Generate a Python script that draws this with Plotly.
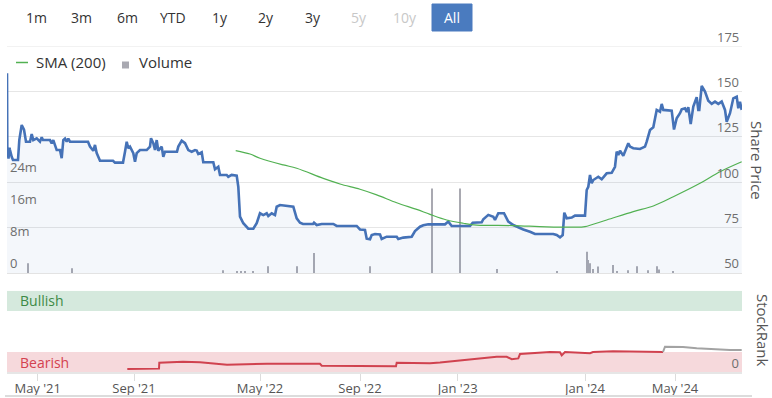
import plotly.graph_objects as go

# ---------------- data (x = ordinal session position) ----------------
PRICE_X = [0, 0.3, 1.5, 2.5, 3, 4.7, 6, 11, 12.3, 14.7, 17, 19, 23, 24.7, 26.3, 29.7, 33, 34.7, 36, 43,
           44.7, 46.3, 49.7, 53, 54.7, 56.3, 58, 59.7, 61.3, 63, 81, 83, 86.3, 88, 89.7, 93, 106, 108, 116,
           118, 119.7, 121.3, 123, 126.3, 128, 129.7, 133, 139.7, 143, 144, 146.3, 148, 149.7, 151.3, 154.7,
           156.3, 158, 170, 171.3, 174.7, 178, 181.3, 184.7, 188, 189.7, 191.3, 194.7, 196.3, 206.3, 208,
           211.3, 213, 219.7, 221.3, 224.7, 229.7, 231.3, 233, 236.3, 241.3, 246.3, 249.7, 253, 256.3, 259.7,
           261.3, 264.7, 268, 269.7, 273, 283, 286.3, 289.7, 293, 296, 306, 307, 309.7, 314.7, 326.3, 329.7,
           349.7, 353, 358, 359.7, 363, 364.7, 368, 373, 374.7, 379.7, 389.7, 391.3, 396.3, 404.7, 408, 413,
           416.3, 421.3, 438, 441.3, 444.7, 463, 465.7, 474.7, 476.3, 481.3, 486.3, 488, 491.3, 497, 501.3,
           506.3, 509.7, 516.3, 523, 528, 546.3, 549.7, 553, 555.7, 557.3, 559.7, 564.7, 568, 578, 579.7,
           581.3, 583, 584.7, 586.3, 591.3, 594.7, 599.7, 604.7, 608, 609.7, 611.3, 613, 616.3, 618, 621.3,
           623, 626.3, 633, 638, 639.7, 643, 646.3, 649.7, 653, 654.7, 656.3, 661.3, 664.7, 667, 669.7, 673,
           674.7, 678, 679.7, 681.3, 683.7, 686.3, 689.7, 691.3, 692.3, 694.7, 698, 701.3, 704.7, 708, 711.3,
           714.7, 718, 719.7, 723, 726.3, 729.7, 731.3, 733, 734.7]
PRICE = [160, 119.6, 113, 119, 117.7, 114, 112.2, 112.2, 123.2, 131.5, 129, 122.3, 122.3, 126.5, 123.2,
         124.2, 122.3, 124.8, 123.2, 123.2, 121.4, 123.2, 117.7, 117.7, 113.2, 123.2, 124, 122.3, 124, 122.3,
         122.3, 119.6, 117.3, 120.5, 116, 111.8, 111.8, 110.8, 110.8, 116.8, 122.3, 118.7, 119.6, 116, 111.3,
         116, 117.7, 117.7, 119.6, 124.2, 121.5, 117.7, 123.2, 117.3, 119.6, 114, 116.8, 116.8, 119.6, 122.9,
         121.5, 117.7, 116.8, 117.7, 117.4, 115.5, 116.5, 111, 111, 107.1, 108.5, 104, 104, 103, 104, 103.6,
         97.5, 81, 77.4, 74.4, 74.4, 77.4, 82.9, 81.9, 82.9, 81.4, 82.9, 81.9, 86.5, 87.4, 86.9, 86.5, 80.1,
         77.7, 77, 77, 77.7, 76.4, 77, 77, 75.9, 75.9, 74, 73.7, 68.9, 68.6, 70.9, 71.5, 71.2, 68.7, 70, 70,
         68.7, 69.5, 70, 73.1, 75.5, 76.3, 76.8, 76.8, 78.3, 75.9, 75.9, 77.7, 77.9, 79.6, 82, 81, 79.2, 82.9,
         82.9, 78.3, 76.4, 75.5, 74, 72.7, 71.5, 71.5, 70.9, 69.6, 70.9, 83.2, 80.1, 80.5, 81.6, 81.6, 95.7,
         97.5, 104, 99.4, 101.2, 103, 101.6, 104.9, 105.2, 108.5, 116.8, 115, 117.4, 114.6, 116.8, 121.4,
         119.6, 118.7, 118.3, 119.6, 122.3, 128.7, 130.2, 139.8, 138.8, 143.1, 139.8, 139.8, 139.4, 129,
         135.2, 138, 140.1, 140.7, 138.7, 141.3, 132, 141.6, 146.8, 139.8, 139.8, 153, 149.9, 144.9, 143.1,
         144.4, 143.1, 144.4, 139.8, 133.3, 138, 146.2, 147.1, 140.7, 144.3, 139.8]

SMA_X = [228.7, 243, 253, 276.3, 289.7, 316.3, 333, 353, 369.7, 389.7, 409.7, 423, 439.7, 456.3, 469.7,
         506.3, 539.7, 573, 578, 599.7, 626.3, 646.3, 666.3, 693, 713, 734.7]
SMA = [117.4, 115.5, 113.2, 109.5, 107.7, 102.1, 99, 96.1, 93, 88.7, 85, 82.3, 79.2, 77.4, 76.4,
       76.1, 75.4, 75.3, 75.5, 79.2, 83.8, 86.9, 92, 99.4, 105.8, 111.3]

VOL_X = [21.3, 64.7, 216.3, 229.7, 233.7, 238, 245.7, 260.7, 289.7, 307, 363, 424.7, 453, 490.3, 550.3,
         579.7, 581.3, 583, 586.3, 591.3, 606.3, 609.7, 621.3, 629.7, 641.3, 649.7, 652.3, 666.3]
VOLUME = [2.4e6, 1.2e6, 0.7e6, 0.4e6, 0.4e6, 0.3e6, 0.4e6, 1.7e6, 1.7e6, 5.0e6, 1.7e6, 21.0e6, 21.0e6,
          1.0e6, 0.4e6, 5.3e6, 3.2e6, 2.4e6, 1.0e6, 1.6e6, 2.0e6, 0.5e6, 0.7e6, 1.7e6, 0.7e6, 1.7e6,
          0.9e6, 0.4e6]

RANK_X = [120.3, 152, 152.3, 176, 193, 220, 260, 313, 314.7, 353, 379.7, 389, 389.7, 423, 433, 453,
          489.7, 499.7, 504.7, 511.3, 513, 543, 553, 554.7, 558, 583, 586, 606, 623, 656]
RANK = [4, 4.5, 11.8, 13, 12.3, 9.3, 10.5, 10.5, 8.1, 7.7, 6.9, 7.5, 11.8, 11.2, 12, 14.2,
        19, 19, 16, 17, 22.4, 24.9, 24.5, 20.8, 24.9, 23.3, 24.9, 25.7, 25.7, 24.9]
RANK2_X = [656, 658, 676, 689.7, 723, 734.7]
RANK2 = [24.9, 31.4, 30.9, 29.4, 27.3, 27.3]

TICK_POS = [30.7, 127, 253, 353, 450.7, 578, 668]
TICK_LABELS = ["May '21", "Sep '21", "May '22", "Sep '22", "Jan '23", "Jan '24", "May '24"]
PRICE_TICKS = [50, 75, 100, 125, 150]
PRICE_TOP = 175
BUTTONS = ["1m", "3m", "6m", "YTD", "1y", "2y", "3y", "5y", "10y"]
DISABLED = ["5y", "10y"]

# ---------------- layout helpers ----------------
W, H = 772, 398
def px(x): return x / W
def py(y): return 1 - y / H

FONT = "Open Sans"
X0, X1 = 7, 742
MAIN = [py(273), py(46)]
RANKD = [py(372.3), py(290.7)]

fig = go.Figure()

fig.add_trace(go.Bar(x=VOL_X, y=VOLUME, width=1.3, marker=dict(color="#a9a9b1", line_width=0),
                     xaxis="x", yaxis="y", hoverinfo="skip", showlegend=False))
fig.add_trace(go.Scatter(x=PRICE_X, y=PRICE, mode="lines", line=dict(color="#4572b7", width=2.6),
                         fill="tozeroy", fillcolor="rgba(69,114,183,0.06)",
                         xaxis="x", yaxis="y3", hoverinfo="skip", showlegend=False))
fig.add_trace(go.Scatter(x=SMA_X, y=SMA, mode="lines", line=dict(color="#52b152", width=1.2, shape="spline"),
                         xaxis="x", yaxis="y3", hoverinfo="skip", showlegend=False))
fig.add_trace(go.Scatter(x=RANK_X, y=RANK, mode="lines", line=dict(color="#d0424f", width=2),
                         xaxis="x2", yaxis="y2", hoverinfo="skip", showlegend=False))
fig.add_trace(go.Scatter(x=RANK2_X, y=RANK2, mode="lines", line=dict(color="#a3a3a3", width=2),
                         xaxis="x2", yaxis="y2", hoverinfo="skip", showlegend=False))

axis_font = dict(family=FONT, size=13, color="#6e6e6e")
fig.update_layout(
    width=W, height=H, margin=dict(l=0, r=0, t=0, b=0, autoexpand=False),
    paper_bgcolor="white", plot_bgcolor="rgba(0,0,0,0)",
    font=dict(family=FONT, color="#333"),
    xaxis=dict(domain=[px(X0), px(X1)], range=[0, 735], anchor="y", showticklabels=False,
               showgrid=False, zeroline=False, showline=True, linecolor="#e3e3e3", linewidth=1,
               automargin=False),
    yaxis=dict(domain=MAIN, range=[0, 56.4e6], side="left", anchor="x",
               tickvals=[0, 8e6, 16e6, 24e6], ticktext=["0", "8m", "16m", "24m"],
               ticklabelposition="inside top", showgrid=False, zeroline=False, tickfont=axis_font,
               automargin=False),
    yaxis3=dict(range=[50, PRICE_TOP], overlaying="y", side="right", anchor="x",
                tickvals=PRICE_TICKS, ticklabelposition="inside top",
                showgrid=True, gridcolor="#e6e6e6", gridwidth=1, zeroline=False, tickfont=axis_font,
                automargin=False),
    xaxis2=dict(domain=[px(X0), px(X1)], anchor="y2", matches="x", range=[0, 735],
                tickvals=TICK_POS, ticktext=TICK_LABELS, ticks="outside", ticklen=7,
                tickcolor="#dcdcdc", showgrid=False, zeroline=False, showline=True,
                linecolor="#e6e6e6", linewidth=2, automargin=False, ticklabelstandoff=-4,
                tickfont=dict(family=FONT, size=13, color="#555")),
    yaxis2=dict(domain=RANKD, range=[0, 100], anchor="x2", side="right", tickvals=[0],
                ticktext=["0"], ticklabelposition="inside top", showgrid=False, zeroline=False,
                tickfont=axis_font, automargin=False),
)

shapes = [
    dict(type="rect", xref="paper", yref="y2", x0=px(X0), x1=px(X1), y0=0, y1=25,
         fillcolor="#f6d9dc", line_width=0, layer="below"),
    dict(type="rect", xref="paper", yref="y2", x0=px(X0), x1=px(X1), y0=75, y1=100,
         fillcolor="#d5e9dd", line_width=0, layer="below"),
    # top gridline of price axis
    dict(type="line", xref="paper", yref="y3", x0=px(X0), x1=px(X1), y0=PRICE_TOP, y1=PRICE_TOP,
         line=dict(color="#e6e6e6", width=1), layer="below"),
    dict(type="line", xref="paper", yref="paper", x0=px(5), x1=px(752), y0=py(396), y1=py(396),
         line=dict(color="#dcdcdc", width=2)),
    # legend symbols
    dict(type="line", xref="paper", yref="paper", x0=px(16), x1=px(28), y0=py(62.5), y1=py(62.5),
         line=dict(color="#52b152", width=1.5)),
    dict(type="rect", xref="paper", yref="paper", x0=px(122), x1=px(129), y0=py(68.5), y1=py(61.5),
         fillcolor="#a9a9b1", line_width=0),
    # selected button
    dict(type="rect", xref="paper", yref="paper", x0=px(432), x1=px(472), y0=py(31), y1=py(4),
         fillcolor="#4a7bbf", line=dict(color="#4a7bbf", width=1)),
]

ann = []
btn_x = [36.7, 81.7, 127.7, 173.3, 220, 265.7, 313.3, 359.3, 405]
for lab, bx in zip(BUTTONS, btn_x):
    ann.append(dict(text=lab, x=px(bx), y=py(17.5), xref="paper", yref="paper", showarrow=False,
                    xanchor="center", yanchor="middle",
                    font=dict(family=FONT, size=14, color="#c8c8c8" if lab in DISABLED else "#333")))
ann.append(dict(text="All", x=px(452), y=py(17.5), xref="paper", yref="paper", showarrow=False,
                xanchor="center", yanchor="middle", font=dict(family=FONT, size=14, color="white")))
ann += [
    dict(text=str(PRICE_TOP), x=px(741), y=PRICE_TOP, xref="paper", yref="y3", showarrow=False,
         xanchor="right", yanchor="bottom", yshift=-2, font=axis_font),
    dict(text="SMA (200)", x=px(34), y=py(62.5), xref="paper", yref="paper", showarrow=False,
         xanchor="left", yanchor="middle", font=dict(family=FONT, size=15, color="#333")),
    dict(text="Volume", x=px(137), y=py(62.5), xref="paper", yref="paper", showarrow=False,
         xanchor="left", yanchor="middle", font=dict(family=FONT, size=15, color="#333")),
    dict(text="Share Price", x=px(757), y=py(160), xref="paper", yref="paper", showarrow=False,
         textangle=90, xanchor="center", yanchor="middle", font=dict(family=FONT, size=15, color="#555")),
    dict(text="StockRank", x=px(763), y=py(330), xref="paper", yref="paper", showarrow=False,
         textangle=90, xanchor="center", yanchor="middle", font=dict(family=FONT, size=15, color="#555")),
    dict(text="Bullish", x=px(18), y=py(300.5), xref="paper", yref="paper", showarrow=False,
         xanchor="left", yanchor="middle", font=dict(family=FONT, size=14, color="#3d8a45")),
    dict(text="Bearish", x=px(18), y=py(362), xref="paper", yref="paper", showarrow=False,
         xanchor="left", yanchor="middle", font=dict(family=FONT, size=14, color="#d4424f")),
]
fig.update_layout(shapes=shapes, annotations=ann)

fig.write_html("out.html", config={"displayModeBar": False},
               post_script="document.body.style.margin='0';document.body.style.overflow='hidden';")
